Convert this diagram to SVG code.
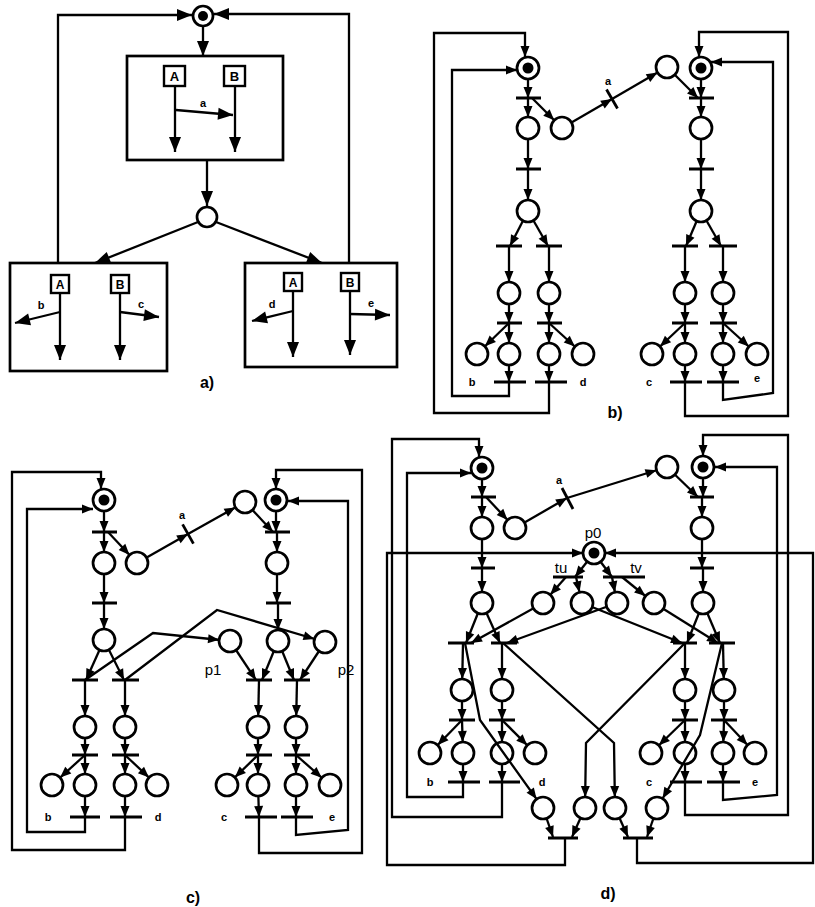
<svg xmlns="http://www.w3.org/2000/svg" width="815" height="907" viewBox="0 0 815 907">
<style>
.pl{fill:#fff;stroke:#000;stroke-width:2.7}
.tok{fill:#000}
.tr{stroke:#000;stroke-width:2.8;fill:none}
.arc{stroke:#000;stroke-width:2.3;fill:none}
.box{fill:none;stroke:#000;stroke-width:2.7}
.sq{fill:#fff;stroke:#000;stroke-width:2.4}
.t{font-family:"Liberation Sans",Arial,sans-serif;text-anchor:middle;fill:#000}
.s{font-size:11px;font-weight:bold}
.m{font-size:15px}
.sqt{font-size:13px;font-weight:bold}
.cap{font-size:16px;font-weight:bold}
.at{marker-end:url(#at)}
.ap{marker-end:url(#ap)}
.aL{marker-end:url(#aL)}
</style>
<defs>
<marker id="at" markerUnits="userSpaceOnUse" viewBox="0 0 11 9" markerWidth="11" markerHeight="9" refX="11" refY="4.5" orient="auto" overflow="visible"><path d="M0,0 L11,4.5 L0,9 z"/></marker>
<marker id="ap" markerUnits="userSpaceOnUse" viewBox="0 0 11 9" markerWidth="11" markerHeight="9" refX="22" refY="4.5" orient="auto" overflow="visible"><path d="M0,0 L11,4.5 L0,9 z"/></marker>
<marker id="aL" markerUnits="userSpaceOnUse" viewBox="0 0 15 12" markerWidth="15" markerHeight="12" refX="15" refY="6" orient="auto" overflow="visible"><path d="M0,0 L15,6 L0,12 z"/></marker>
</defs>
<rect width="815" height="907" fill="#fff"/>

<g id="connectors">
<!-- panel a -->
<path class="arc aL" d="M58,263 L58,15 L192,15"/>
<path class="arc aL" d="M349,262 L349,14 L214,14"/>
<path class="arc aL" d="M203,26 L203,56"/>
<path class="arc aL" d="M175,86 L175,152"/>
<path class="arc aL" d="M235,86 L235,152"/>
<path class="arc aL" d="M176,110 L233,115"/>
<path class="arc aL" d="M207,160 L207,206"/>
<path class="arc aL" d="M198,222 L95,263"/>
<path class="arc aL" d="M216,222 L322,263"/>
<path class="arc aL" d="M60,293 L60,360"/>
<path class="arc aL" d="M120,293 L120,360"/>
<path class="arc aL" d="M60,312 L15,323"/>
<path class="arc aL" d="M120,312 L159,317"/>
<path class="arc aL" d="M293,291 L293,357"/>
<path class="arc aL" d="M350,291 L350,355"/>
<path class="arc aL" d="M293,311 L252,321"/>
<path class="arc aL" d="M350,314 L390,315"/>

<!-- panel b left -->
<path class="arc at" d="M528,68 L528,98"/>
<path class="arc ap" d="M528,98 L528,128"/>
<path class="arc ap" d="M532,98 L562,128"/>
<path class="arc at" d="M562,128 L612,99"/>
<path class="arc ap" d="M612,99 L667,67"/>
<path class="arc at" d="M528,128 L528,169"/>
<path class="arc ap" d="M528,169 L528,211"/>
<path class="arc at" d="M528,211 L510,246"/>
<path class="arc at" d="M528,211 L548,246"/>
<path class="arc ap" d="M509,246 L509,293"/>
<path class="arc ap" d="M549,246 L549,293"/>
<path class="arc at" d="M509,293 L509,323"/>
<path class="arc at" d="M549,293 L549,323"/>
<path class="arc ap" d="M509,323 L477,354"/>
<path class="arc ap" d="M509,323 L509,354"/>
<path class="arc ap" d="M549,323 L549,354"/>
<path class="arc ap" d="M549,323 L583,354"/>
<path class="arc at" d="M509,354 L509,382"/>
<path class="arc at" d="M549,354 L549,382"/>
<path class="arc at" d="M509,382 L509,396 L452,396 L452,70 L517,70"/>
<path class="arc at" d="M549,382 L549,413 L434,413 L434,33 L525,33 L525,57"/>
<!-- panel b right -->
<path class="arc at" d="M667,67 L698,98"/>
<path class="arc at" d="M701,68 L701,98"/>
<path class="arc ap" d="M701,98 L701,128"/>
<path class="arc at" d="M701,128 L701,169"/>
<path class="arc ap" d="M701,169 L701,211"/>
<path class="arc at" d="M701,211 L686,246"/>
<path class="arc at" d="M701,211 L721,246"/>
<path class="arc ap" d="M685,246 L685,293"/>
<path class="arc ap" d="M723,246 L723,293"/>
<path class="arc at" d="M685,293 L685,323"/>
<path class="arc at" d="M723,293 L723,323"/>
<path class="arc ap" d="M685,323 L652,354"/>
<path class="arc ap" d="M685,323 L685,354"/>
<path class="arc ap" d="M723,323 L723,354"/>
<path class="arc ap" d="M723,323 L757,354"/>
<path class="arc at" d="M685,354 L685,382"/>
<path class="arc at" d="M723,354 L723,382"/>
<path class="arc at" d="M685,382 L685,416 L788,416 L788,32 L699,32 L699,57"/>
<path class="arc at" d="M723,382 L723,400 L773,393 L773,62 L711,62"/>

<!-- panel c left -->
<path class="arc at" d="M104,500 L104,532"/>
<path class="arc ap" d="M104,532 L104,563"/>
<path class="arc ap" d="M108,532 L137,563"/>
<path class="arc at" d="M137,563 L188,534"/>
<path class="arc ap" d="M188,534 L245,502"/>
<path class="arc at" d="M104,563 L104,603"/>
<path class="arc ap" d="M104,603 L104,640"/>
<path class="arc at" d="M104,640 L86,680"/>
<path class="arc at" d="M104,640 L124,680"/>
<path class="arc ap" d="M85,680 L85,727"/>
<path class="arc ap" d="M125,680 L125,727"/>
<path class="arc at" d="M85,727 L85,755"/>
<path class="arc at" d="M125,727 L125,755"/>
<path class="arc ap" d="M85,755 L52,785"/>
<path class="arc ap" d="M85,755 L85,785"/>
<path class="arc ap" d="M125,755 L125,785"/>
<path class="arc ap" d="M125,755 L157,785"/>
<path class="arc at" d="M85,785 L85,817"/>
<path class="arc at" d="M125,785 L125,817"/>
<path class="arc at" d="M85,817 L85,832 L27,832 L27,509 L93,509"/>
<path class="arc at" d="M125,817 L125,850 L12,850 L12,472 L101,472 L101,489"/>
<path class="arc ap" d="M85,680 L153,633 L230,641"/>
<path class="arc ap" d="M125,680 L217,610 L325,642"/>
<!-- panel c right -->
<path class="arc at" d="M245,502 L273,532"/>
<path class="arc at" d="M276,500 L276,532"/>
<path class="arc ap" d="M277,532 L277,563"/>
<path class="arc at" d="M277,563 L277,603"/>
<path class="arc ap" d="M278,603 L278,641"/>
<path class="arc at" d="M230,641 L256,680"/>
<path class="arc at" d="M278,641 L262,680"/>
<path class="arc at" d="M278,641 L294,680"/>
<path class="arc at" d="M325,642 L300,680"/>
<path class="arc ap" d="M259,680 L258,727"/>
<path class="arc ap" d="M297,680 L296,727"/>
<path class="arc at" d="M258,727 L258,755"/>
<path class="arc at" d="M296,727 L296,755"/>
<path class="arc ap" d="M258,755 L227,785"/>
<path class="arc ap" d="M258,755 L258,785"/>
<path class="arc ap" d="M296,755 L296,785"/>
<path class="arc ap" d="M296,755 L330,785"/>
<path class="arc at" d="M258,785 L259,817"/>
<path class="arc at" d="M296,785 L296,817"/>
<path class="arc at" d="M259,817 L259,853 L362,853 L362,470 L276,470 L276,489"/>
<path class="arc at" d="M296,817 L296,835 L348,830 L348,501 L288,501"/>

<!-- panel d left -->
<path class="arc at" d="M482,468 L482,497"/>
<path class="arc ap" d="M482,497 L482,528"/>
<path class="arc ap" d="M486,497 L515,528"/>
<path class="arc at" d="M515,528 L567,498"/>
<path class="arc ap" d="M567,498 L667,467"/>
<path class="arc at" d="M482,528 L482,568"/>
<path class="arc ap" d="M482,568 L482,603"/>
<path class="arc at" d="M482,603 L466,643"/>
<path class="arc at" d="M482,603 L500,643"/>
<path class="arc at" d="M543,603 L471,643"/>
<path class="arc at" d="M617,603 L507,643"/>
<path class="arc ap" d="M463,643 L462,690"/>
<path class="arc ap" d="M502,643 L502,690"/>
<path class="arc at" d="M462,690 L462,720"/>
<path class="arc at" d="M502,690 L502,720"/>
<path class="arc ap" d="M462,720 L430,753"/>
<path class="arc ap" d="M462,720 L463,753"/>
<path class="arc ap" d="M502,720 L502,753"/>
<path class="arc ap" d="M502,720 L535,753"/>
<path class="arc at" d="M463,753 L463,782"/>
<path class="arc at" d="M502,753 L502,782"/>
<path class="arc at" d="M463,782 L463,797 L407,797 L407,473 L471,473"/>
<path class="arc at" d="M502,782 L502,817 L392,817 L392,439 L479,439 L479,457"/>
<!-- panel d right -->
<path class="arc at" d="M667,467 L698,497"/>
<path class="arc at" d="M703,467 L703,497"/>
<path class="arc ap" d="M702,497 L702,528"/>
<path class="arc at" d="M702,528 L702,568"/>
<path class="arc ap" d="M703,568 L703,603"/>
<path class="arc at" d="M703,603 L687,643"/>
<path class="arc at" d="M703,603 L720,643"/>
<path class="arc at" d="M582,603 L682,643"/>
<path class="arc at" d="M654,603 L718,643"/>
<path class="arc ap" d="M685,643 L685,690"/>
<path class="arc ap" d="M723,643 L724,690"/>
<path class="arc at" d="M685,690 L685,720"/>
<path class="arc at" d="M724,690 L724,720"/>
<path class="arc ap" d="M685,720 L651,753"/>
<path class="arc ap" d="M685,720 L685,753"/>
<path class="arc ap" d="M724,720 L723,753"/>
<path class="arc ap" d="M724,720 L755,753"/>
<path class="arc at" d="M685,753 L685,782"/>
<path class="arc at" d="M723,753 L723,782"/>
<path class="arc at" d="M685,782 L685,815 L788,815 L788,435 L703,435 L703,456"/>
<path class="arc at" d="M723,782 L723,800 L777,795 L777,467 L715,467"/>
<!-- panel d p0 -->
<path class="arc at" d="M594,553 L575,577"/>
<path class="arc at" d="M594,553 L612,577"/>
<path class="arc ap" d="M566,577 L543,603"/>
<path class="arc ap" d="M576,577 L582,603"/>
<path class="arc ap" d="M612,577 L617,603"/>
<path class="arc ap" d="M622,577 L654,603"/>
<path class="arc at" d="M565,838 L565,865 L387,865 L387,553 L583,553"/>
<path class="arc at" d="M637,838 L637,863 L813,863 L813,553 L605,553"/>
<path class="arc ap" d="M503,643 L614,743 L615,808"/>
<path class="arc ap" d="M685,643 L586,743 L585,808"/>
<path class="arc at" d="M543,808 L553,837"/>
<path class="arc at" d="M585,808 L572,837"/>
<path class="arc at" d="M615,808 L628,837"/>
<path class="arc at" d="M657,808 L647,837"/>
</g>

<g id="panel-a-nodes">
<g id="a-start"><circle class="pl" cx="203" cy="16" r="10"/><circle class="tok" cx="203" cy="16" r="5"/></g>
<g id="a-box-top"><rect class="box" x="127" y="56" width="156" height="104"/>
<rect class="sq" x="164" y="66" width="21" height="20"/><text class="t sqt" x="174.5" y="81">A</text>
<rect class="sq" x="224" y="66" width="21" height="20"/><text class="t sqt" x="234.5" y="81">B</text></g>
<g id="a-choice"><circle class="pl" cx="207" cy="217" r="10"/></g>
<g id="a-box-left"><rect class="box" x="10" y="263" width="157" height="108"/>
<rect class="sq" x="51" y="275" width="18" height="18"/><text class="t sqt" x="60" y="289" style="font-size:12px">A</text>
<rect class="sq" x="111" y="275" width="18" height="18"/><text class="t sqt" x="120" y="289" style="font-size:12px">B</text></g>
<g id="a-box-right"><rect class="box" x="245" y="263" width="152" height="104"/>
<rect class="sq" x="284" y="273" width="18" height="18"/><text class="t sqt" x="293" y="287" style="font-size:12px">A</text>
<rect class="sq" x="341" y="273" width="18" height="18"/><text class="t sqt" x="350" y="287" style="font-size:12px">B</text></g>
</g>

<g id="panel-b-nodes">
<g id="b-P0"><circle class="pl" cx="528" cy="68" r="11"/><circle class="tok" cx="528" cy="68" r="5.5"/></g>
<g id="b-P1"><circle class="pl" cx="528" cy="128" r="11"/></g>
<g id="b-Pa"><circle class="pl" cx="562" cy="128" r="11"/></g>
<g id="b-P2"><circle class="pl" cx="528" cy="211" r="11"/></g>
<g id="b-P3a"><circle class="pl" cx="509" cy="293" r="11"/></g>
<g id="b-P3b"><circle class="pl" cx="549" cy="293" r="11"/></g>
<g id="b-P4"><circle class="pl" cx="477" cy="354" r="11"/><circle class="pl" cx="509" cy="354" r="11"/><circle class="pl" cx="549" cy="354" r="11"/><circle class="pl" cx="583" cy="354" r="11"/></g>
<g id="b-Pb"><circle class="pl" cx="667" cy="67" r="11"/></g>
<g id="b-P0r"><circle class="pl" cx="701" cy="68" r="11"/><circle class="tok" cx="701" cy="68" r="5.5"/></g>
<g id="b-P1r"><circle class="pl" cx="701" cy="128" r="11"/></g>
<g id="b-P2r"><circle class="pl" cx="701" cy="211" r="11"/></g>
<g id="b-P3r"><circle class="pl" cx="685" cy="293" r="11"/><circle class="pl" cx="723" cy="293" r="11"/></g>
<g id="b-P4r"><circle class="pl" cx="652" cy="354" r="11"/><circle class="pl" cx="685" cy="354" r="11"/><circle class="pl" cx="723" cy="354" r="11"/><circle class="pl" cx="757" cy="354" r="11"/></g>
<g id="b-transitions">
<path class="tr" d="M516,98 H541 M516,169 H541 M496,246 H522 M536,246 H562 M497,323 H522 M537,323 H562 M494,382 H526 M535,382 H567"/>
<path class="tr" d="M606.5,89.5 L617.5,108.5"/>
<path class="tr" d="M689,98 H714 M689,169 H714 M672,246 H698 M709,246 H737 M672,323 H698 M710,323 H737 M670,382 H702 M707,382 H739"/>
</g>
</g>

<g id="panel-c-nodes">
<g id="c-P0"><circle class="pl" cx="104" cy="500" r="11"/><circle class="tok" cx="104" cy="500" r="5.5"/></g>
<g id="c-P1"><circle class="pl" cx="104" cy="563" r="11"/></g>
<g id="c-Pa"><circle class="pl" cx="137" cy="563" r="11"/></g>
<g id="c-P2"><circle class="pl" cx="104" cy="640" r="11"/></g>
<g id="c-P3"><circle class="pl" cx="85" cy="727" r="11"/><circle class="pl" cx="125" cy="727" r="11"/></g>
<g id="c-P4"><circle class="pl" cx="52" cy="785" r="11"/><circle class="pl" cx="85" cy="785" r="11"/><circle class="pl" cx="125" cy="785" r="11"/><circle class="pl" cx="157" cy="785" r="11"/></g>
<g id="c-Pb"><circle class="pl" cx="245" cy="502" r="11"/></g>
<g id="c-P0r"><circle class="pl" cx="276" cy="500" r="11"/><circle class="tok" cx="276" cy="500" r="5.5"/></g>
<g id="c-P1r"><circle class="pl" cx="277" cy="563" r="11"/></g>
<g id="c-P2r"><circle class="pl" cx="278" cy="641" r="11"/></g>
<g id="c-p1"><circle class="pl" cx="230" cy="641" r="11"/></g>
<g id="c-p2"><circle class="pl" cx="325" cy="642" r="11"/></g>
<g id="c-P3r"><circle class="pl" cx="258" cy="727" r="11"/><circle class="pl" cx="296" cy="727" r="11"/></g>
<g id="c-P4r"><circle class="pl" cx="227" cy="785" r="11"/><circle class="pl" cx="258" cy="785" r="11"/><circle class="pl" cx="296" cy="785" r="11"/><circle class="pl" cx="330" cy="785" r="11"/></g>
<g id="c-transitions">
<path class="tr" d="M92,532 H117 M92,603 H117 M72,680 H98 M112,680 H139 M72,755 H98 M112,755 H139 M70,817 H100 M110,817 H142"/>
<path class="tr" d="M182.6,524.4 L193.4,543.6"/>
<path class="tr" d="M265,532 H290 M266,603 H291 M246,680 H272 M284,680 H310 M246,755 H272 M284,755 H310 M245,817 H277 M281,817 H313"/>
</g>
</g>

<g id="panel-d-nodes">
<g id="d-P0"><circle class="pl" cx="482" cy="468" r="11"/><circle class="tok" cx="482" cy="468" r="5.5"/></g>
<g id="d-P1"><circle class="pl" cx="482" cy="528" r="11"/></g>
<g id="d-Pa"><circle class="pl" cx="515" cy="528" r="11"/></g>
<g id="d-P2"><circle class="pl" cx="482" cy="603" r="11"/></g>
<g id="d-P3"><circle class="pl" cx="462" cy="690" r="11"/><circle class="pl" cx="502" cy="690" r="11"/></g>
<g id="d-P4"><circle class="pl" cx="430" cy="753" r="11"/><circle class="pl" cx="463" cy="753" r="11"/><circle class="pl" cx="502" cy="753" r="11"/><circle class="pl" cx="535" cy="753" r="11"/></g>
<g id="d-Pb"><circle class="pl" cx="667" cy="467" r="11"/></g>
<g id="d-P0r"><circle class="pl" cx="703" cy="467" r="11"/><circle class="tok" cx="703" cy="467" r="5.5"/></g>
<g id="d-P1r"><circle class="pl" cx="702" cy="528" r="11"/></g>
<g id="d-P2r"><circle class="pl" cx="703" cy="603" r="11"/></g>
<g id="d-P3r"><circle class="pl" cx="685" cy="690" r="11"/><circle class="pl" cx="724" cy="690" r="11"/></g>
<g id="d-P4r"><circle class="pl" cx="651" cy="753" r="11"/><circle class="pl" cx="685" cy="753" r="11"/><circle class="pl" cx="723" cy="753" r="11"/><circle class="pl" cx="755" cy="753" r="11"/></g>
<g id="d-p0"><circle class="pl" cx="594" cy="553" r="11"/><circle class="tok" cx="594" cy="553" r="5.5"/></g>
<g id="d-tu-out"><circle class="pl" cx="543" cy="603" r="11"/><circle class="pl" cx="582" cy="603" r="11"/></g>
<g id="d-tv-out"><circle class="pl" cx="617" cy="603" r="11"/><circle class="pl" cx="654" cy="603" r="11"/></g>
<g id="d-final"><circle class="pl" cx="543" cy="808" r="11"/><circle class="pl" cx="585" cy="808" r="11"/><circle class="pl" cx="615" cy="808" r="11"/><circle class="pl" cx="657" cy="808" r="11"/></g>
<g id="d-transitions">
<path class="tr" d="M471,497 H496 M471,568 H495 M448,643 H474 M491,643 H517 M449,720 H475 M489,720 H515 M448,782 H480 M489,782 H520"/>
<path class="tr" d="M562,488 L573,509"/>
<path class="tr" d="M690,497 H714 M690,568 H714 M673,643 H697 M709,643 H735 M672,720 H698 M711,720 H737 M670,782 H702 M707,782 H740"/>
<path class="tr" d="M553,577 H583 M603,577 H645 M548,838 H578 M623,838 H653"/>
</g>
</g>

<g id="connectors-over">
<path class="arc at" d="M465,643 L480,720 L536.6,799.1"/>
<path class="arc at" d="M722,643 L700,735 L662.6,798.5"/>
</g>

<g id="labels">
<text class="t s" x="203" y="107">a</text>
<text class="t s" x="41" y="309">b</text>
<text class="t s" x="141" y="308">c</text>
<text class="t s" x="272" y="308">d</text>
<text class="t s" x="371" y="307">e</text>
<text class="t cap" x="207" y="388">a)</text>

<text class="t s" x="608" y="85">a</text>
<text class="t s" x="472" y="386">b</text>
<text class="t s" x="583" y="386">d</text>
<text class="t s" x="649" y="386">c</text>
<text class="t s" x="757" y="382">e</text>
<text class="t cap" x="615" y="418">b)</text>

<text class="t s" x="182" y="519">a</text>
<text class="t s" x="48" y="821">b</text>
<text class="t s" x="158" y="821">d</text>
<text class="t s" x="224" y="821">c</text>
<text class="t s" x="332" y="821">e</text>
<text class="t m" x="213" y="675">p1</text>
<text class="t m" x="346" y="675">p2</text>
<text class="t cap" x="193" y="903">c)</text>

<text class="t s" x="559" y="484">a</text>
<text class="t m" x="593" y="538">p0</text>
<text class="t m" x="561" y="573">tu</text>
<text class="t m" x="636" y="573">tv</text>
<text class="t s" x="430" y="786">b</text>
<text class="t s" x="542" y="786">d</text>
<text class="t s" x="649" y="786">c</text>
<text class="t s" x="755" y="786">e</text>
<text class="t cap" x="608" y="899">d)</text>
</g>
</svg>
